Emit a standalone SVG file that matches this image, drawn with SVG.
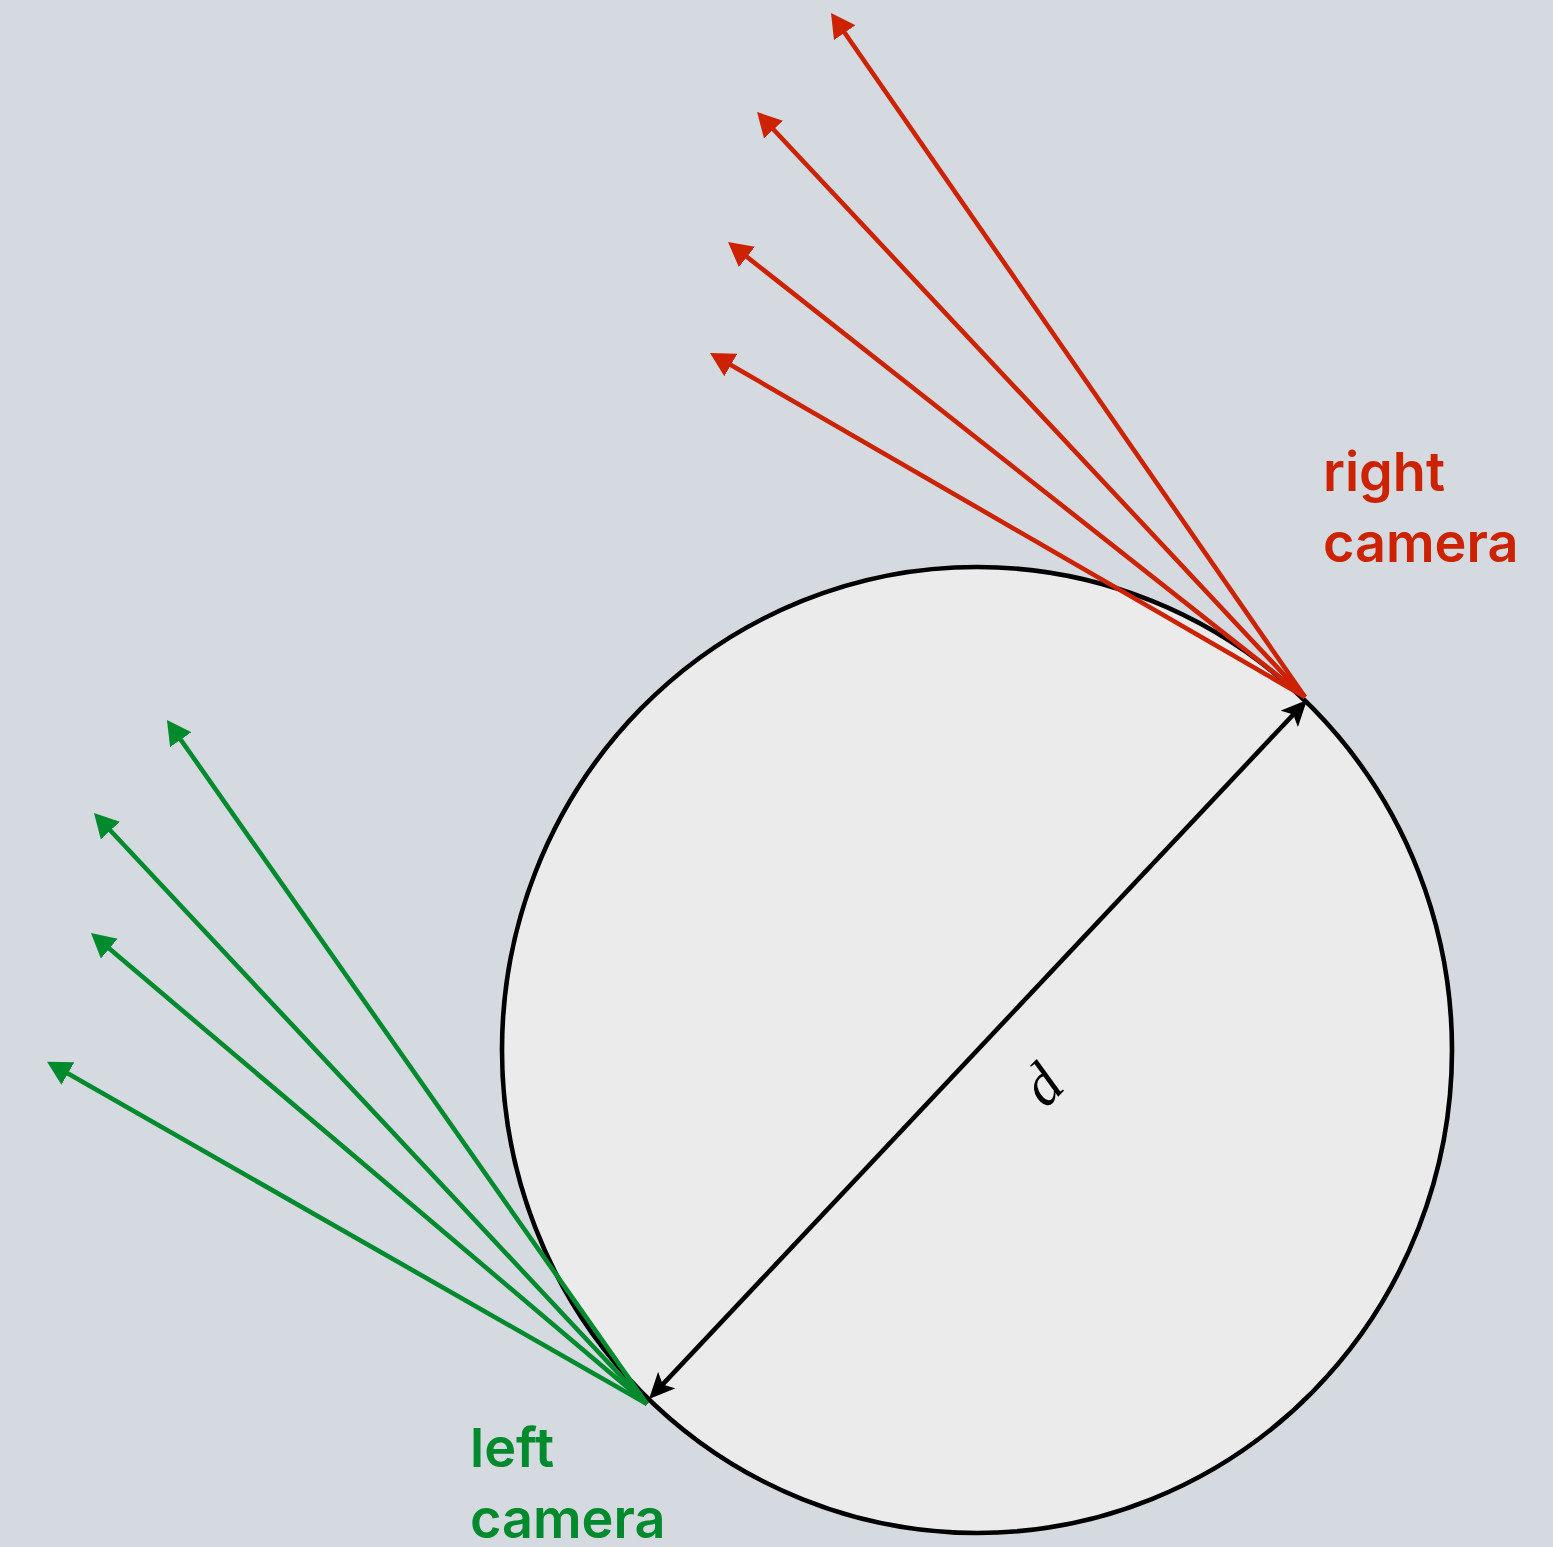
<svg xmlns="http://www.w3.org/2000/svg" width="1553" height="1547" viewBox="0 0 1553 1547">
<style>
.red{stroke:#cc2200;stroke-width:4.6;fill:none}
.green{stroke:#008a2e;stroke-width:4.6;fill:none}
.blk{stroke:#000;stroke-width:4.6;fill:none}
.lbl{font-family:Inter,"Liberation Sans",sans-serif;font-weight:600;font-size:54px}
</style>
<defs>
<marker id="ar" viewBox="0 0 24 26" refX="14" refY="13" markerWidth="24" markerHeight="26" markerUnits="userSpaceOnUse" orient="auto"><path d="M0,0 L24,13 L0,26 z" fill="#cc2200"/></marker>
<marker id="ag" viewBox="0 0 24 26" refX="14" refY="13" markerWidth="24" markerHeight="26" markerUnits="userSpaceOnUse" orient="auto"><path d="M0,0 L24,13 L0,26 z" fill="#008a2e"/></marker>
<marker id="ab" viewBox="0 0 26 24" refX="18" refY="12" markerWidth="26" markerHeight="24" markerUnits="userSpaceOnUse" orient="auto-start-reverse"><path d="M0,0 L26,12 L0,24 L6,12 z" fill="#000"/></marker>
</defs>
<rect width="1553" height="1547" fill="#d5dae0"/>
<g id="circle"><ellipse cx="977" cy="1050" rx="475" ry="483" fill="#ebebeb" stroke="#000" stroke-width="4.6"/></g>
<g id="connectors">
<line class="red" x1="1305" y1="697" x2="836.7" y2="21.2" marker-end="url(#ar)"/>
<line class="red" x1="1305" y1="697" x2="763.9" y2="119.3" marker-end="url(#ar)"/>
<line class="red" x1="1305" y1="697" x2="735.9" y2="248.2" marker-end="url(#ar)"/>
<line class="red" x1="1305" y1="697" x2="718.7" y2="358" marker-end="url(#ar)"/>
<line class="green" x1="647" y1="1404" x2="172.7" y2="728.2" marker-end="url(#ag)"/>
<line class="green" x1="647" y1="1404" x2="100.8" y2="820.3" marker-end="url(#ag)"/>
<line class="green" x1="647" y1="1404" x2="98.6" y2="939.5" marker-end="url(#ag)"/>
<line class="green" x1="647" y1="1404" x2="55.7" y2="1066.6" marker-end="url(#ag)"/>
<line class="blk" x1="654.5" y1="1393.2" x2="1301.5" y2="705.8" marker-start="url(#ab)" marker-end="url(#ab)"/>
</g>
<g id="d-label"><text transform="translate(1041,1084) rotate(-46)" text-anchor="middle" dy="0.35em" font-family="'Liberation Serif',serif" font-style="italic" font-size="60">d</text></g>
<g id="right-camera" fill="#cc2200" class="lbl"><text x="1323" y="491">right</text><text x="1323" y="562">camera</text></g>
<g id="left-camera" fill="#008a2e" class="lbl"><text x="470" y="1467">left</text><text x="470" y="1538">camera</text></g>
</svg>
